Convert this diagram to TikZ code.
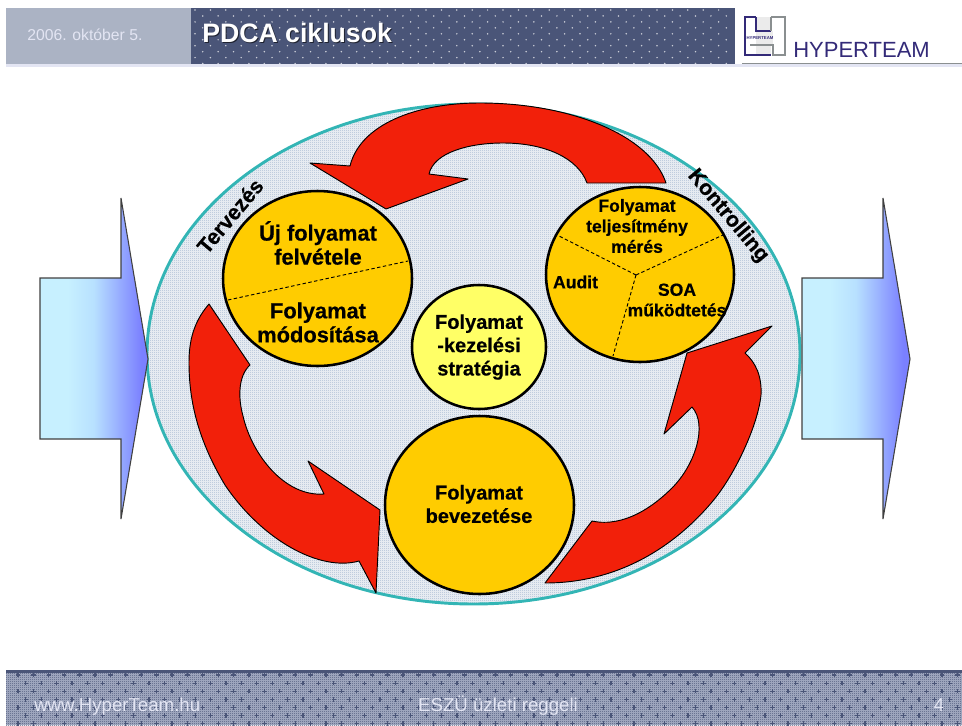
\documentclass[tikz,border=0pt]{standalone}
\usepackage{fontspec}
\setmainfont{Liberation Sans}
\newfontfamily\heavyfont[FakeBold=0.5]{Liberation Sans Bold}
\usetikzlibrary{patterns,shapes.geometric}
\definecolor{hdrdark}{HTML}{4A5578}
\definecolor{hdrgrey}{HTML}{ABB3C4}
\definecolor{hdrline}{HTML}{E3E5F3}
\definecolor{footbase}{HTML}{A9B1C8}
\definecolor{redarrow}{HTML}{F2200A}
\definecolor{orangec}{HTML}{FFCC00}
\definecolor{yellowc}{HTML}{FFFF66}
\definecolor{tealc}{HTML}{33B5B5}
\definecolor{ellbase}{HTML}{F0F3F6}
\definecolor{elldot}{HTML}{A6B8D0}
\definecolor{logodark}{HTML}{332A78}
\definecolor{logogrey}{HTML}{8A8F90}
\pgfdeclarehorizontalshading{bluegrad}{100bp}{rgb(0bp)=(.78,.94,1); rgb(38bp)=(.78,.94,1); rgb(50bp)=(.72,.88,1); rgb(72bp)=(.48,.50,1); rgb(100bp)=(.48,.50,1)}
\pgfdeclarepatternformonly{finedots}{\pgfqpoint{0bp}{0bp}}{\pgfqpoint{1.5bp}{1.5bp}}{\pgfqpoint{1.5bp}{1.5bp}}{%
  \pgfpathrectangle{\pgfqpoint{0bp}{0bp}}{\pgfqpoint{.75bp}{.75bp}}%
  \pgfpathrectangle{\pgfqpoint{.75bp}{.75bp}}{\pgfqpoint{.75bp}{.75bp}}%
  \pgfusepath{fill}}
\tikzset{
  redshape/.style={fill=redarrow,draw=black,line width=.7pt,line join=round},
  bluearrow/.style={draw=black!75,line width=.8pt,shading=bluegrad},
  bigball/.style={ellipse,draw=black,line width=1.9pt,fill=orangec,inner sep=0pt},
  divider/.style={draw=black,line width=.7pt,dash pattern=on 2.6pt off 1.8pt},
  bigtxt/.style={font=\fontsize{16.4}{18}\heavyfont\selectfont,align=center,inner sep=0pt},
  midtxt/.style={font=\fontsize{15}{17.5}\heavyfont\selectfont,align=center,inner sep=0pt},
  smalltxt/.style={font=\fontsize{13.2}{15.4}\heavyfont\selectfont,align=center,inner sep=0pt},
  sidetxt/.style={font=\fontsize{16}{18}\heavyfont\selectfont,inner sep=0pt},
  foottxt/.style={font=\fontsize{14}{16}\selectfont,text=hdrline,inner sep=0pt}
}
\begin{document}
\begin{tikzpicture}[x=0.75pt,y=-0.75pt]
\useasboundingbox (0,0) rectangle (962,725);
% header
\fill[hdrgrey] (6,8) rectangle (191,64);
\fill[hdrdark] (191,8) rectangle (735,64);
\foreach \j in {0,...,9}{
  \pgfmathsetmacro{\yy}{10+5.95*\j}
  \pgfmathsetmacro{\xo}{mod(\j,2)*7.7}
  \foreach \i in {0,...,34}{
    \fill[white!70!hdrdark] ({195+15.4*\i+\xo},\yy) circle (.85);
  }
}
\fill[hdrline] (6,64) rectangle (962,67);
\fill[logogrey] (742,62.5) rectangle (962,64);
\node[inner sep=0pt,anchor=base west,font=\fontsize{11.8}{13}\selectfont,text=hdrline] (date) at (27,40) {2006. október 5.};
\node[inner sep=0pt,anchor=base west,font=\fontsize{20}{22}\bfseries\selectfont,text=black!60!hdrdark] (titleshadow) at (203,43) {PDCA ciklusok};
\node[inner sep=0pt,anchor=base west,font=\fontsize{20}{22}\bfseries\selectfont,text=white] (title) at (202,42) {PDCA ciklusok};
% logo
\fill[black!8] (756,31) rectangle (773,45);
\fill[black!8] (756,17) rectangle (771,31);
\fill[black!8] (756,45) rectangle (771,55);
\draw[logodark,line width=1.5pt] (756,17) -- (745,17) -- (745,55) -- (771,55);
\draw[logodark,line width=1.5pt] (756,17) -- (756,31) -- (771,31);
\draw[logogrey,line width=1.9pt] (771,17) -- (785,17) -- (785,55) -- (773,55) -- (773,45) -- (750,45);
\draw[logogrey,line width=1.9pt] (771,17) -- (771,31);
\node[inner sep=0pt,font=\fontsize{3.2}{4}\bfseries\selectfont,text=logodark] (logosmall) at (760,38) {HYPERTEAM};
\node[inner sep=0pt,anchor=base west,font=\fontsize{16.5}{18}\selectfont,text=logodark] (logotext) at (793,57.5) {HYPERTEAM};
% footer
\fill[footbase] (6,670) rectangle (962,725);
\fill[pattern=finedots,pattern color=hdrdark] (6,672) rectangle (962,725);
\fill[hdrdark] (6,670) rectangle (962,672.5);
\foreach \j in {0,...,6}{
  \pgfmathsetmacro{\yy}{675+8.1*\j}
  \pgfmathsetmacro{\xo}{mod(\j,2)*7.7}
  \foreach \i in {0,...,61}{
    \fill[hdrdark] ({18+15.4*\i+\xo-2.2},\yy-.6) rectangle ++(4.4,1.2);
    \fill[hdrdark] ({18+15.4*\i+\xo-.6},\yy-2.2) rectangle ++(1.2,4.4);
  }
}
\node[foottxt,anchor=base west] (web) at (34,711) {www.HyperTeam.hu};
\node[foottxt,anchor=base] (event) at (498,711) {ESZÜ üzleti reggeli};
\node[foottxt,anchor=base] (pageno) at (939,711) {4};
% main ellipse
\fill[ellbase] (473.5,354) ellipse [x radius=326.5,y radius=250];
\fill[pattern=finedots,pattern color=elldot] (473.5,354) ellipse [x radius=326.5,y radius=250];
\draw[tealc,line width=2.2pt] (473.5,354) ellipse [x radius=326.5,y radius=250];
% blue arrows
\path[bluearrow] (40,278) -- (121,278) -- (121,198) -- (148,359) -- (121,519) -- (121,439) -- (40,439) -- cycle;
\path[bluearrow] (802,278) -- (883,278) -- (883,198) -- (910,359) -- (883,519) -- (883,439) -- (802,439) -- cycle;
% red arrows
\path[redshape] (310,163) -- (386,209) -- (468,179) -- (429,174)
  .. controls (434,152) and (470,143) .. (503,143)
  .. controls (545,143) and (578,158) .. (587,183)
  -- (666,183)
  .. controls (650,135) and (570,103) .. (480,103)
  .. controls (415,103) and (360,125) .. (350,166) -- cycle;
\path[redshape] (209,304) -- (250,365)
  .. controls (238,376) and (238,398) .. (243,416)
  .. controls (252,455) and (285,497) .. (324,494)
  -- (308,461) -- (380,510) -- (376,593) -- (359,561)
  .. controls (320,572) and (262,540) .. (225,485)
  .. controls (195,435) and (189,395) .. (189,362)
  .. controls (189,335) and (197,318) .. (209,304) -- cycle;
\path[redshape] (772,326) -- (745,353)
  .. controls (755,362) and (762,375) .. (761,395)
  .. controls (758,425) and (735,475) .. (712,502)
  .. controls (680,540) and (625,583) .. (545,583)
  -- (592,521)
  .. controls (625,528) and (655,505) .. (672,488)
  .. controls (695,465) and (708,425) .. (692,407)
  -- (664,434) -- (687,353) -- cycle;
% balls
\node[bigball,minimum width=189pt*.75,minimum height=175pt*.75] (plan) at (317.5,278.5) {};
\node[bigball,minimum width=188pt*.75,minimum height=175pt*.75] (check) at (640,274.5) {};
\node[bigball,fill=yellowc,minimum width=134pt*.75,minimum height=124pt*.75] (strategy) at (479,347) {};
\node[bigball,minimum width=189pt*.75,minimum height=178pt*.75] (doit) at (479.5,505) {};
% dividers
\coordinate (hub) at (636,275);
\coordinate (ca) at (559,236);
\coordinate (cb) at (723,235);
\coordinate (cc) at (613,356);
\coordinate (pa) at (228,300);
\coordinate (pb) at (408,261);
\draw[divider] (hub) -- (ca);
\draw[divider] (hub) -- (cb);
\draw[divider] (hub) -- (cc);
\draw[divider] (pa) -- (pb);
% labels
\node[bigtxt] (p1) at (318,243) {Új folyamat\\felvétele};
\node[bigtxt] (p2) at (318,322.5) {Folyamat\\módosítása};
\node[smalltxt] (c1) at (637,226) {Folyamat\\teljesítmény\\mérés};
\node[smalltxt] (c2) at (575.5,282) {Audit};
\node[smalltxt] (c3) at (677,300) {SOA\\működtetés};
\node[midtxt] (st) at (479,347) {Folyamat\\-kezelési\\stratégia};
\node[midtxt] (dt) at (479,504) {Folyamat\\bevezetése};
\node[sidetxt,rotate=50] (terv) at (230,216) {Tervezés};
\node[sidetxt,rotate=-50] (kont) at (728,216) {Kontrolling};
\end{tikzpicture}
\end{document}
